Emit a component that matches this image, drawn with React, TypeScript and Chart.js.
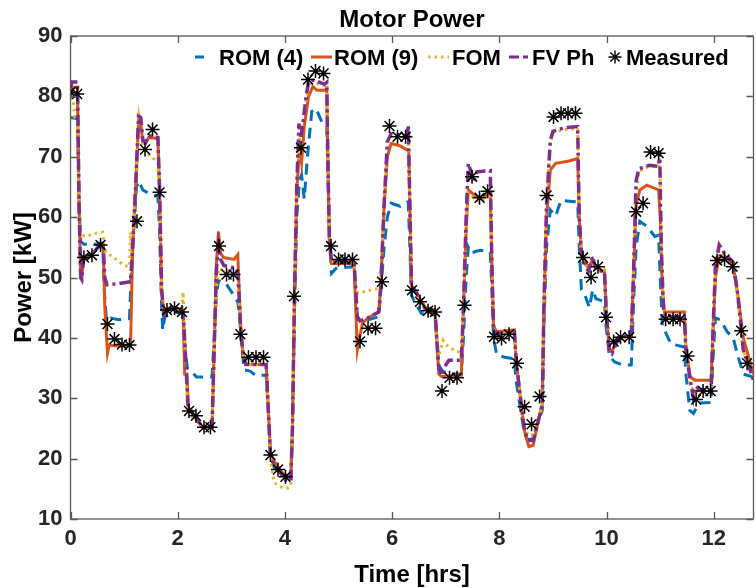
import React, { useEffect, useRef } from "react";
import { Chart, registerables } from "chart.js";

Chart.register(...registerables);

// ---------- data ----------
const titleText = "Motor Power";
const xLabel = "Time [hrs]";
const yLabel = "Power [kW]";
const xTickValues = [0, 2, 4, 6, 8, 10, 12];
const yTickValues = [10, 20, 30, 40, 50, 60, 70, 80, 90];
const seriesNames = ["ROM (4)", "ROM (9)", "FOM", "FV Ph", "Measured"];

const rom4T = [0.0,0.13,0.16,0.19,0.25,0.45,0.6,0.63,0.67,0.75,0.9,1.1,1.13,1.18,1.23,1.27,1.35,1.45,1.63,1.66,1.7,1.72,1.76,1.95,2.1,2.14,2.18,2.25,2.35,2.64,2.68,2.72,2.76,2.9,3.05,3.12,3.15,3.2,3.24,3.35,3.45,3.65,3.69,3.73,3.8,3.95,4.11,4.14,4.18,4.22,4.27,4.31,4.36,4.42,4.5,4.58,4.7,4.78,4.8,4.83,4.87,4.95,5.29,5.32,5.36,5.55,5.75,5.79,5.85,5.91,5.98,6.15,6.28,6.3,6.33,6.36,6.45,6.55,6.8,6.83,6.87,6.95,7.15,7.29,7.33,7.38,7.42,7.47,7.55,7.65,7.83,7.86,7.89,7.95,8.1,8.28,8.31,8.38,8.47,8.55,8.63,8.72,8.8,8.83,8.88,8.95,9.05,9.15,9.35,9.46,9.49,9.53,9.6,9.68,9.74,9.8,9.96,9.99,10.05,10.15,10.3,10.46,10.5,10.55,10.62,10.75,10.9,10.97,11.0,11.04,11.08,11.2,11.45,11.48,11.55,11.62,11.72,11.95,11.98,12.03,12.12,12.25,12.36,12.45,12.55,12.74];
const rom4V = [76.5,76.3,62,56,55.5,55.5,55.7,48,43,43.3,43,43.2,50,58,65,66,64.5,64,63.5,58,45,41.3,43.5,44.3,44,38,35,34.5,33.5,33.5,40,47,49.5,49,47,46,44,38,34.7,34.5,33.8,33.8,28,21,18.5,17.5,17,25,45,60,66,67,63,70,77.5,78,75.5,75,68,56,50.7,51.5,51.8,47,43,43,43.5,48,55,60,62.3,61.8,62.5,62.5,55,47,45.5,44,43.8,40,35.5,34.3,34,34,40,50,55,54,54.3,54.5,54.2,48,40,37.2,36.8,36.5,33,29,24,23,23.5,26,28,42,55,61.2,60.2,62.8,62.6,62.5,55,48,47,45,48,46.5,46,42,37,36,35.5,35.5,45,55,59.3,58.5,56.8,57,50,42,41.3,39,38.5,34,28,27.5,29.2,29.3,36,43.3,43,41,40,37,34,33.5];

const rom9T = [0.0,0.03,0.13,0.16,0.19,0.21,0.24,0.4,0.56,0.61,0.64,0.69,0.72,0.9,1.12,1.16,1.22,1.27,1.31,1.35,1.4,1.46,1.63,1.66,1.7,1.74,1.8,1.94,2.1,2.13,2.17,2.2,2.28,2.4,2.46,2.64,2.68,2.72,2.76,2.8,2.86,3.05,3.12,3.15,3.18,3.22,3.27,3.65,3.69,3.73,3.8,3.92,4.02,4.11,4.14,4.18,4.22,4.27,4.31,4.36,4.44,4.52,4.6,4.74,4.78,4.8,4.83,4.87,5.29,5.32,5.35,5.39,5.45,5.55,5.75,5.79,5.85,5.91,5.98,6.15,6.28,6.31,6.33,6.36,6.45,6.52,6.62,6.8,6.83,6.87,6.92,7.29,7.33,7.38,7.42,7.55,7.65,7.83,7.86,7.89,7.95,8.28,8.31,8.38,8.47,8.55,8.63,8.72,8.8,8.83,8.88,8.95,9.05,9.3,9.46,9.49,9.53,9.6,9.66,9.74,9.8,9.96,9.99,10.05,10.1,10.2,10.3,10.46,10.5,10.55,10.62,10.75,10.97,11.0,11.04,11.08,11.45,11.48,11.56,11.65,11.95,11.98,12.03,12.1,12.2,12.36,12.45,12.55,12.74];
const rom9V = [80,81.5,81.5,62,50,49.7,53,53.8,55.5,55.5,45,37.5,38.8,38.6,38.6,55,66,76,75.5,72.5,72.2,73.2,73,65,48,44,44.6,44.9,44.2,34,34,28.5,27.5,26,25.2,25.2,38,52,57.6,54,53.3,53,53.8,47,41,37,35.6,35.6,28,21,19.5,18,17,16.8,25,48,64,71.6,69,75,80,81.6,81,81,81.3,70,56,52.3,52.3,45,38,40,42.5,43.3,44.3,49,62,70,72.2,71.8,71.1,71,62,48.6,47.6,46.5,45,44.6,40,34,33.6,33.8,45,58,64.5,63.5,63.2,64,52,42,41,41.3,36.5,31,24.5,22,22.2,26,29,45,60,67.8,68.9,69.3,69.7,60,54,52.8,51.5,53,51.5,51,45,38,37.8,39.5,40.2,40.3,50,62,64.5,65.3,64.5,60,48,44.3,44.3,38,33.5,33,33,40,50,53.5,53.5,52,47,40,34];

const fomT = [0.0,0.05,0.08,0.13,0.16,0.19,0.3,0.45,0.6,0.63,0.66,0.85,1.0,1.1,1.12,1.14,1.18,1.24,1.28,1.31,1.35,1.45,1.63,1.66,1.7,1.74,1.95,2.08,2.1,2.13,2.18,2.3,2.46,2.64,2.68,2.72,2.76,2.9,3.1,3.14,3.18,3.22,3.27,3.65,3.69,3.73,3.8,3.95,4.05,4.11,4.14,4.18,4.22,4.27,4.31,4.38,4.44,4.55,4.74,4.78,4.8,4.83,4.87,5.29,5.32,5.36,5.55,5.75,5.79,5.85,5.91,5.98,6.28,6.3,6.33,6.36,6.45,6.52,6.62,6.8,6.83,6.87,6.95,7.05,7.15,7.29,7.33,7.38,7.42,7.55,7.65,7.83,7.86,7.89,7.95,8.28,8.31,8.38,8.47,8.55,8.63,8.72,8.8,8.83,8.88,8.95,9.0,9.2,9.46,9.49,9.53,9.6,9.66,9.74,9.8,9.96,9.99,10.05,10.15,10.3,10.46,10.5,10.55,10.6,10.8,10.97,10.99,11.02,11.06,11.1,11.45,11.48,11.56,11.65,11.95,11.98,12.03,12.1,12.2,12.36,12.45,12.55,12.74];
const fomV = [79.9,79.5,76.5,76.3,62,57,56.8,57.3,57.5,55,54.2,53,52,51.8,57.5,54,60,68,76.5,75,71.8,70.5,69,63,48,44.5,44.6,44.5,47.6,40,28,26.5,25.5,25.5,38,48,51.5,51,50.3,46,41,37,35.6,35.6,28,19.5,16,15.2,15.1,15.5,25,48,64,73,74,78.5,82,82.2,81.8,82,70,56,52.6,52.5,48,47.4,47.8,48.2,50,62,72.5,73.5,73.3,74.5,62,48.5,47.3,45.5,44.2,44,40,37,39.6,38.5,38,37.5,45,58,64,63,62.5,63.5,52,42,40.5,40.8,36.5,31,25,23.8,24,26,29,45,62,72.5,74,74.5,74.7,60,54,52.3,51,52.5,51.5,51.3,45,39,39.5,40,40,50,64,67.5,68.5,68.3,70,55,45,43.5,43.3,38,32,31,31,40,52,54.5,53.5,52,46,38,33];

const fvT = [0.0,0.03,0.13,0.16,0.19,0.21,0.24,0.4,0.56,0.61,0.64,0.68,0.9,1.12,1.16,1.22,1.27,1.31,1.35,1.4,1.46,1.63,1.66,1.7,1.74,1.8,1.94,2.1,2.14,2.19,2.28,2.4,2.46,2.64,2.68,2.72,2.76,2.8,2.86,3.1,3.13,3.17,3.22,3.27,3.65,3.69,3.73,3.8,3.92,4.02,4.11,4.14,4.18,4.22,4.26,4.29,4.33,4.38,4.44,4.55,4.74,4.78,4.8,4.83,4.87,5.29,5.32,5.35,5.4,5.55,5.75,5.79,5.85,5.91,5.98,6.28,6.3,6.33,6.36,6.45,6.52,6.62,6.8,6.83,6.87,6.92,7.0,7.06,7.29,7.33,7.38,7.42,7.46,7.53,7.58,7.83,7.86,7.89,7.95,8.28,8.31,8.38,8.47,8.54,8.63,8.72,8.8,8.83,8.88,8.95,9.0,9.2,9.46,9.49,9.53,9.6,9.66,9.74,9.8,9.96,9.99,10.05,10.1,10.2,10.3,10.46,10.5,10.55,10.6,10.8,10.97,10.99,11.02,11.06,11.1,11.45,11.48,11.56,11.62,11.67,11.72,11.95,11.98,12.03,12.1,12.2,12.36,12.45,12.55,12.74];
const fvV = [81.5,82.4,82.4,62,50,49.7,53,53.8,55.5,55.5,50,48.8,49,49.3,55,66,76.7,76.5,72.7,72.4,73.5,73.2,65,48,43.8,44.6,44.9,44.2,38,29,27.5,26,25.2,25.2,38,51,55.4,53,52,51.5,50,42,37,35.6,35.6,28,20.5,19,17.6,16.4,16.3,25,48,65,75.5,73,75,79,82.5,82.7,82,82.3,70,56,52.6,52.5,48,43.5,42.8,43.3,44.3,49,62,72.5,73.8,73.5,75.2,62,48.6,47.6,46.2,44.8,44.4,40,35,33.8,35.5,36.3,36.3,45,60,68.9,67.8,66,67.5,67.7,52,42,40.5,41,36.5,31,24.5,23.1,23,26,29,45,62,72.7,74.2,74.8,75,60,54,52.5,51,53.5,51.2,51,45,38,37.4,39.5,40.2,40.3,50,66,68,68.6,68.4,71,55,45,43.5,43.5,38,33,30,32,31.5,31.3,40,52,55.4,54,52.5,47,38,33];

const measT = [0.0,0.125,0.25,0.4,0.56,0.69,0.82,0.96,1.1,1.24,1.39,1.53,1.66,1.8,1.94,2.08,2.21,2.34,2.49,2.61,2.77,2.91,3.04,3.17,3.32,3.46,3.6,3.73,3.87,4.01,4.17,4.3,4.43,4.57,4.72,4.86,5.0,5.12,5.26,5.4,5.55,5.69,5.81,5.95,6.1,6.25,6.37,6.52,6.67,6.8,6.93,7.07,7.21,7.35,7.49,7.63,7.78,7.9,8.04,8.18,8.33,8.47,8.6,8.75,8.88,9.01,9.15,9.28,9.42,9.56,9.71,9.84,9.99,10.13,10.26,10.42,10.55,10.68,10.82,10.97,11.1,11.24,11.37,11.51,11.67,11.8,11.94,12.06,12.2,12.35,12.51,12.62];
const measV = [80.7,80.4,53.3,53.7,55.4,42.3,39.8,38.9,38.8,59.3,71.2,74.5,64.1,44.6,44.9,44.3,27.9,27.1,25.2,25.2,55.2,50.5,50.5,40.6,36.8,36.8,36.8,20.6,18.2,17.0,46.9,71.5,82.8,84.2,83.8,55.2,53.0,53.0,53.0,39.4,41.6,41.6,49.3,75.1,73.3,73.3,47.9,46.0,44.5,44.3,31.2,33.4,33.4,45.4,66.7,63.2,64.3,40.2,39.9,40.6,35.8,28.6,25.7,30.3,63.6,76.6,77.2,77.2,77.2,53.3,50.0,51.8,43.4,39.4,40.1,40.1,60.9,62.3,70.8,70.6,43.1,43.1,43.1,37.0,29.8,31.2,31.2,52.8,53.0,51.8,41.2,35.8];

// ---------- styling ----------
const FONT = '"Liberation Sans", Arial, Helvetica, sans-serif';
const C_ROM4 = "#0072BD";
const C_ROM9 = "#D95319";
const C_FOM = "#EDB120";
const C_FV = "#7E2F8E";
const AXIS = "#5a5a5a";

const pts = (t: number[], v: number[]) => t.map((x, i) => ({ x, y: v[i] }));

const decor = {
  id: "matlabDecor",
  afterDraw(chart: any) {
    const { ctx, chartArea: a, scales } = chart;
    const xs = scales.x;
    const ys = scales.y;
    ctx.save();
    // axes box
    ctx.strokeStyle = AXIS;
    ctx.lineWidth = 1.3;
    ctx.setLineDash([]);
    ctx.strokeRect(a.left, a.top, a.right - a.left, a.bottom - a.top);
    // inner ticks
    const tl = 7;
    ctx.beginPath();
    xTickValues.forEach((v) => {
      const px = Math.round(xs.getPixelForValue(v)) + 0.5;
      ctx.moveTo(px, a.bottom);
      ctx.lineTo(px, a.bottom - tl);
      ctx.moveTo(px, a.top);
      ctx.lineTo(px, a.top + tl);
    });
    yTickValues.forEach((v) => {
      const py = Math.round(ys.getPixelForValue(v)) + 0.5;
      ctx.moveTo(a.left, py);
      ctx.lineTo(a.left + tl, py);
      ctx.moveTo(a.right, py);
      ctx.lineTo(a.right - tl, py);
    });
    ctx.stroke();

    // title
    ctx.fillStyle = "#000";
    ctx.font = `bold 24px ${FONT}`;
    ctx.textAlign = "center";
    ctx.textBaseline = "alphabetic";
    const cx = (a.left + a.right) / 2;
    ctx.fillText(titleText, cx, 26.5);
    // x label
    ctx.fillText(xLabel, cx, 582);
    // y label
    ctx.save();
    ctx.translate(30.5, (a.top + a.bottom) / 2);
    ctx.rotate(-Math.PI / 2);
    ctx.fillText(yLabel, 0, 0);
    ctx.restore();

    // legend
    const ly = 57;
    ctx.lineCap = "butt";
    // ROM (4)
    ctx.strokeStyle = C_ROM4;
    ctx.lineWidth = 3;
    ctx.beginPath();
    ctx.moveTo(195, ly);
    ctx.lineTo(204, ly);
    ctx.stroke();
    // ROM (9)
    ctx.strokeStyle = C_ROM9;
    ctx.beginPath();
    ctx.moveTo(311, ly);
    ctx.lineTo(332, ly);
    ctx.stroke();
    // FOM
    ctx.strokeStyle = C_FOM;
    ctx.setLineDash([2.5, 4]);
    ctx.beginPath();
    ctx.moveTo(428, ly);
    ctx.lineTo(449, ly);
    ctx.stroke();
    // FV Ph
    ctx.strokeStyle = C_FV;
    ctx.setLineDash([10, 4, 5, 4]);
    ctx.beginPath();
    ctx.moveTo(509, ly);
    ctx.lineTo(528, ly);
    ctx.stroke();
    ctx.setLineDash([]);
    // Measured star
    ctx.strokeStyle = "#000";
    ctx.lineWidth = 1.4;
    const sx = 615, sr = 6.5;
    ctx.beginPath();
    for (let k = 0; k < 4; k++) {
      const ang = (k * Math.PI) / 4;
      ctx.moveTo(sx + sr * Math.cos(ang), ly + sr * Math.sin(ang));
      ctx.lineTo(sx - sr * Math.cos(ang), ly - sr * Math.sin(ang));
    }
    ctx.stroke();
    // legend text
    ctx.fillStyle = "#000";
    ctx.font = `bold 22px ${FONT}`;
    ctx.textAlign = "left";
    ctx.textBaseline = "alphabetic";
    const lx = [219, 334, 452, 532, 626];
    seriesNames.forEach((n, i) => ctx.fillText(n, lx[i], 65));
    ctx.restore();
  },
};

export default function App() {
  const ref = useRef<HTMLCanvasElement | null>(null);

  useEffect(() => {
    if (!ref.current) return;
    const chart = new Chart(ref.current, {
      type: "line",
      data: {
        datasets: [
          {
            label: seriesNames[4],
            data: pts(measT, measV),
            showLine: false,
            pointStyle: "star",
            pointRadius: 7,
            pointBorderWidth: 1.5,
            borderColor: "#000",
            backgroundColor: "#000",
            order: 0,
          },
          {
            label: seriesNames[3],
            data: pts(fvT, fvV),
            borderColor: C_FV,
            borderWidth: 3.5,
            borderDash: [11, 4, 3, 4],
            pointRadius: 0,
            tension: 0,
            order: 1,
          },
          {
            label: seriesNames[2],
            data: pts(fomT, fomV),
            borderColor: C_FOM,
            borderWidth: 3,
            borderDash: [2.5, 4],
            pointRadius: 0,
            tension: 0,
            order: 2,
          },
          {
            label: seriesNames[1],
            data: pts(rom9T, rom9V),
            borderColor: C_ROM9,
            borderWidth: 3,
            pointRadius: 0,
            tension: 0,
            order: 3,
          },
          {
            label: seriesNames[0],
            data: pts(rom4T, rom4V),
            borderColor: C_ROM4,
            borderWidth: 3,
            borderDash: [11, 7],
            pointRadius: 0,
            tension: 0,
            order: 4,
          },
        ],
      },
      options: {
        responsive: false,
        animation: false,
        devicePixelRatio: 1,
        layout: { padding: { top: 36, left: 0, right: 0, bottom: 0 } },
        plugins: {
          legend: { display: false },
          title: { display: false },
          tooltip: { enabled: false },
        },
        scales: {
          x: {
            type: "linear",
            min: 0,
            max: 12.74,
            afterFit: (s: any) => {
              s.height = 69;
            },
            afterBuildTicks: (s: any) => {
              s.ticks = xTickValues.map((v) => ({ value: v }));
            },
            grid: { display: false, drawTicks: false },
            border: { display: false },
            ticks: {
              font: { family: FONT, size: 22, weight: "bold" },
              color: "#262626",
              padding: 7,
              maxRotation: 0,
              autoSkip: false,
            },
          },
          y: {
            type: "linear",
            min: 10,
            max: 90,
            afterFit: (s: any) => {
              s.width = 70.5;
            },
            afterBuildTicks: (s: any) => {
              s.ticks = yTickValues.map((v) => ({ value: v }));
            },
            grid: { display: false, drawTicks: false },
            border: { display: false },
            ticks: {
              font: { family: FONT, size: 22, weight: "bold" },
              color: "#262626",
              padding: 8,
              autoSkip: false,
            },
          },
        },
      },
      plugins: [decor],
    } as any);
    return () => chart.destroy();
  }, []);

  return (
    <div
      style={{
        position: "fixed",
        left: 0,
        top: 0,
        width: 756,
        height: 588,
        overflow: "hidden",
        background: "#fff",
      }}
    >
      <canvas ref={ref} width={762} height={588} style={{ display: "block" }} />
    </div>
  );
}
